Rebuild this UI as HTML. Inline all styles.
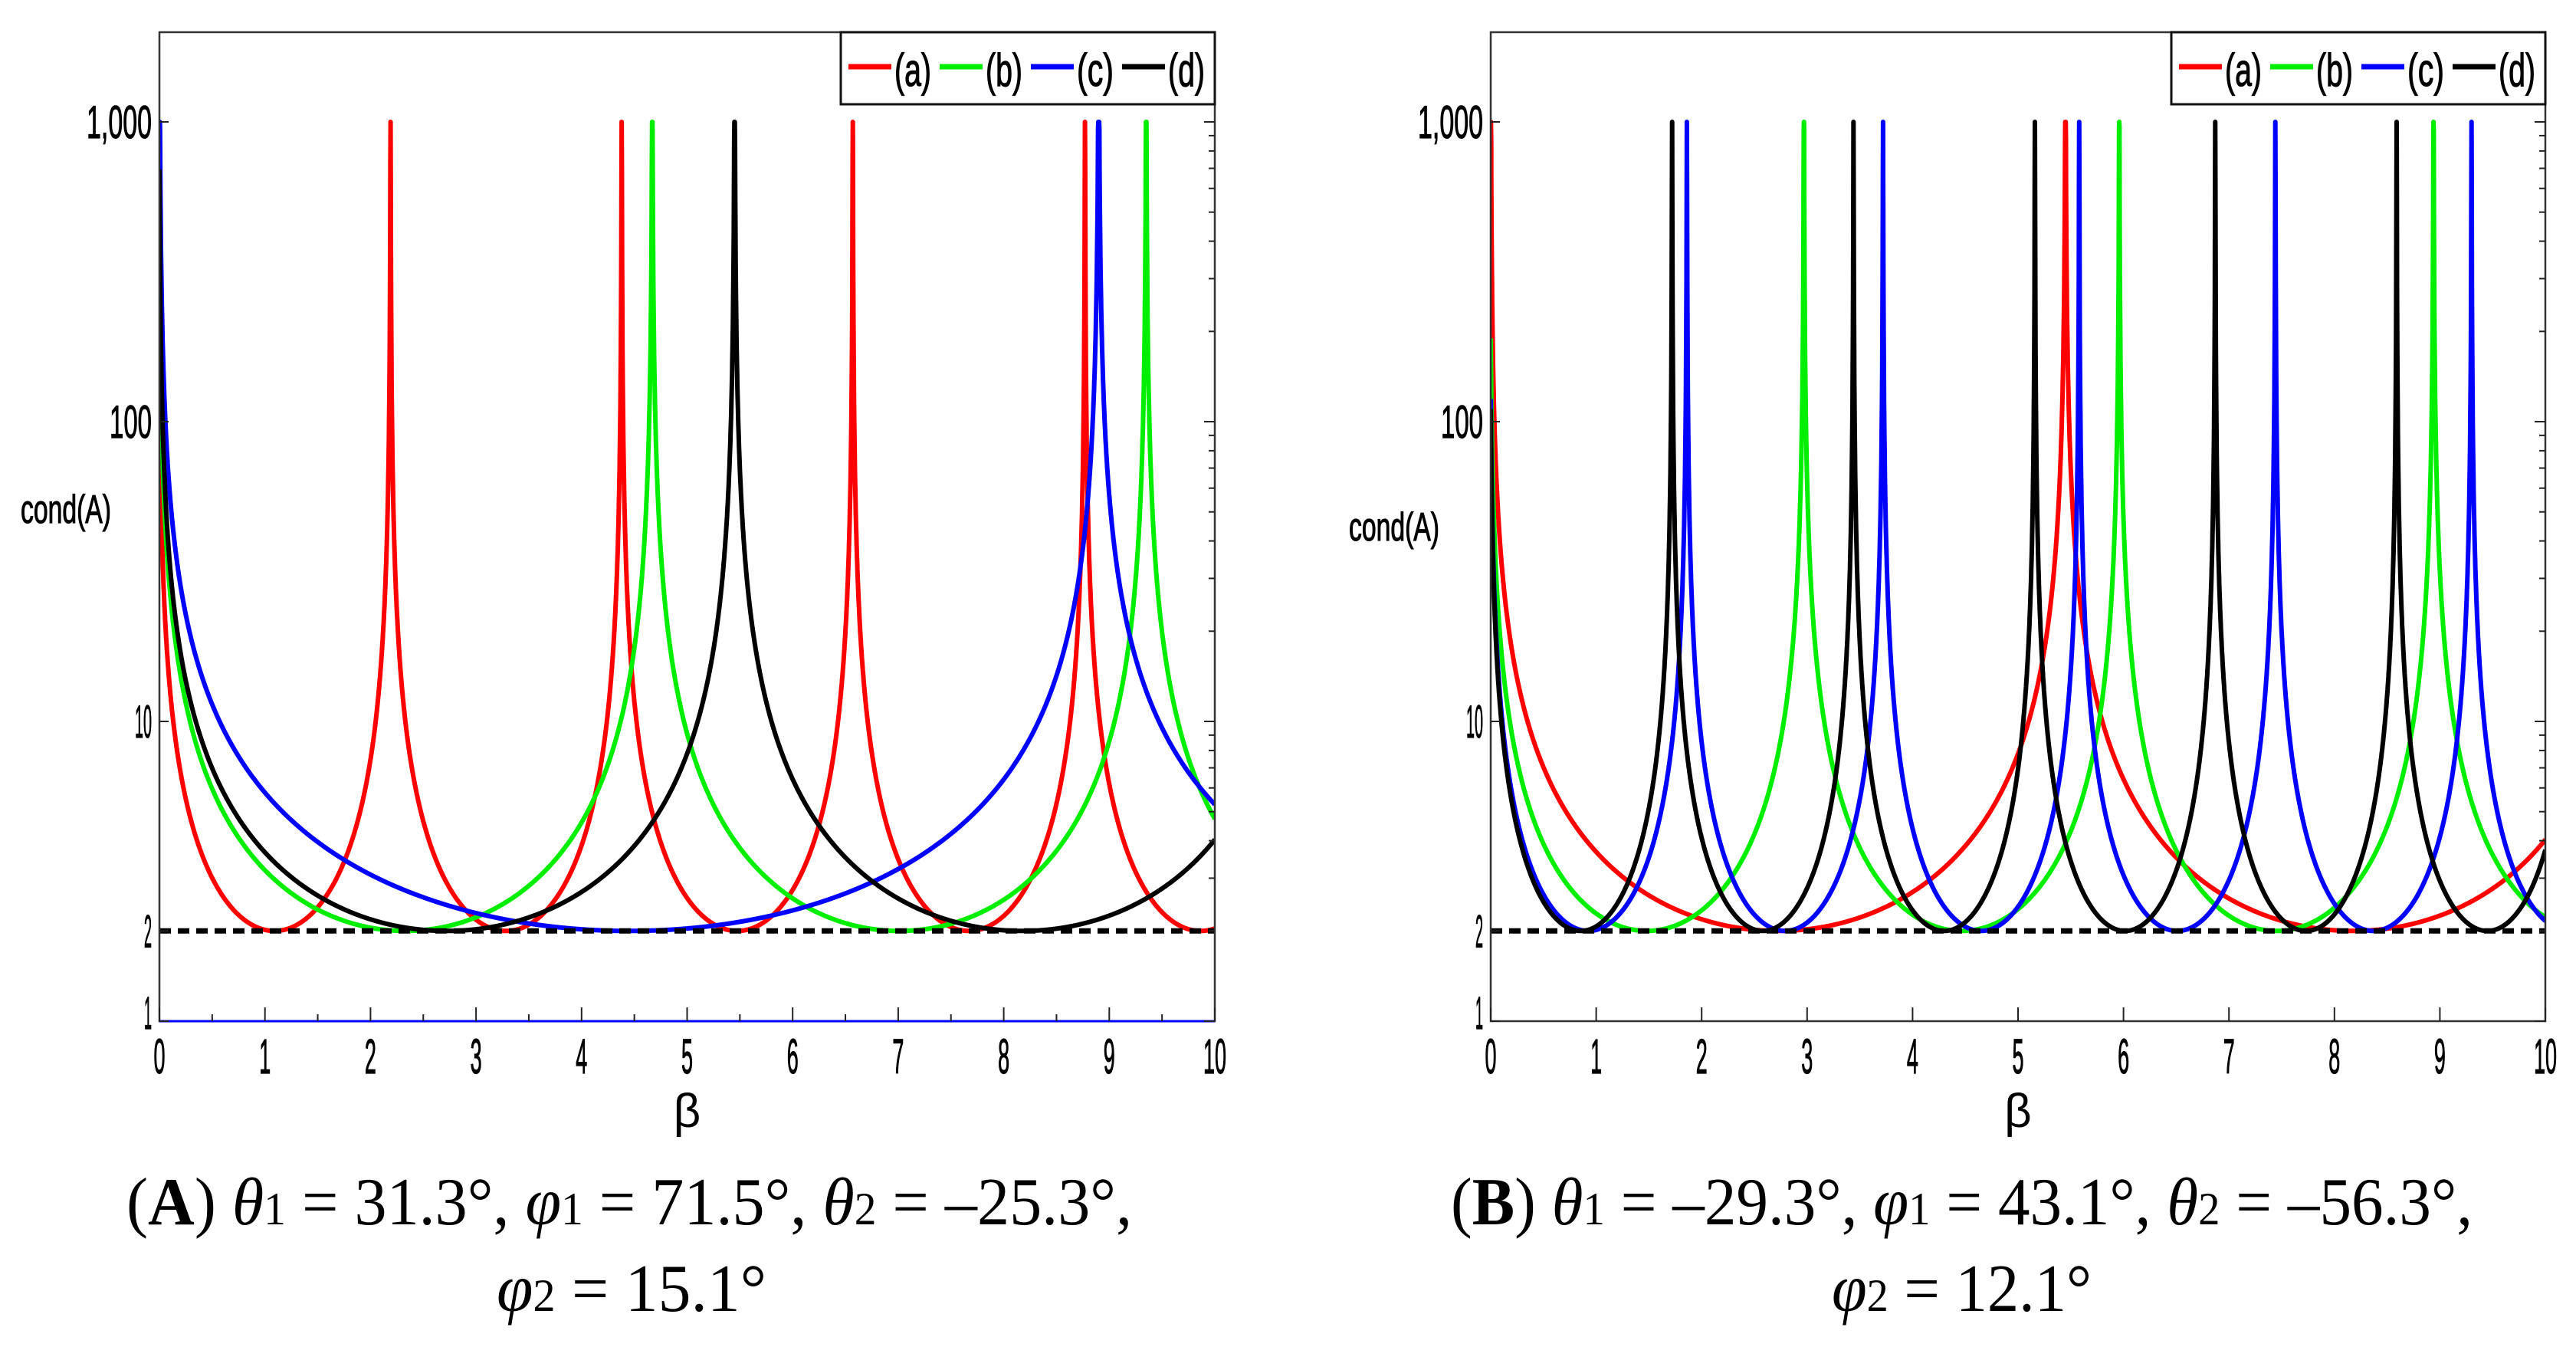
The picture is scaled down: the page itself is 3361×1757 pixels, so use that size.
<!DOCTYPE html>
<html><head><meta charset="utf-8"><style>
html,body{margin:0;padding:0;background:#fff;}
svg{display:block;}
text{font-family:"Liberation Sans",sans-serif;}
.cap{font-family:"Liberation Serif",serif;}
.tk{stroke:#000;stroke-width:1.2px;}
</style></head><body>
<svg id="fig" width="3361" height="1757" viewBox="0 0 3361 1757" xmlns="http://www.w3.org/2000/svg"></svg>
<script>
// ---- data ----
const xTicks = [0,1,2,3,4,5,6,7,8,9,10];
const yTickVals = [1,2,10,100,1000];
const yTickLabels = ["1","2","10","100","1,000"];
const seriesNames = ["(a)","(b)","(c)","(d)"];
const seriesColors = ["#ff0000","#00ee00","#0000ff","#000000"];
const refLevel = 2;
// singular (peak) positions of cond(A) for each series, panel A
const peaksA_a = [-0.01, 2.19, 4.38, 6.57, 8.77, 10.96];
const peaksA_b = [-0.01, 4.67, 9.35, 14.03];
const peaksA_c = [0.0, 8.9, 17.8];
const peaksA_d = [-0.005, 5.45, 10.9];
// panel B
const peaksB_a = [0.0, 5.45, 10.9];
const peaksB_b = [-0.01, 2.97, 5.96, 8.94, 11.92];
const peaksB_c = [-0.01, 1.86, 3.72, 5.58, 7.44, 9.30, 11.16];
const peaksB_d = [-0.01, 1.72, 3.44, 5.16, 6.87, 8.59, 10.31];
const minCond = 2, maxCond = 1000;

const NS = "http://www.w3.org/2000/svg";
const svg = document.getElementById('fig');
function mk(tag, attrs, parent){const e=document.createElementNS(NS,tag);for(const k in attrs)e.setAttribute(k,attrs[k]);(parent||svg).appendChild(e);return e;}

function condAt(b, peaks){
  for(let i=0;i<peaks.length-1;i++){
    const p1=peaks[i], p2=peaks[i+1];
    if(b>=p1 && b<=p2){
      const s=Math.sin(Math.PI*(b-p1)/(p2-p1));
      return s<=minCond/maxCond ? maxCond : Math.min(maxCond, minCond/s);
    }
  }
  return maxCond;
}

function panel(id, x0, x10, peaksList, bottomBlue, minorX){
  const top=42, y1=1332, decade=391;
  const X=v=>x0+(x10-x0)*v/10;
  const Y=v=>y1-decade*Math.log10(v);
  const g=mk('g',{});
  
  
  const cg=mk('g',{'clip-path':'url(#clip'+id+')'},g);
  const cp=mk('clipPath',{id:'clip'+id});
  mk('rect',{x:x0,y:top,width:x10-x0,height:y1-top},cp);
  svg.appendChild(cp);
  peaksList.forEach((peaks,si)=>{
    let xs=[];
    for(let b=0;b<=10.0001;b+=0.002)xs.push(b);
    peaks.forEach(p=>{if(p>=0&&p<=10){xs.push(p);}});
    xs.sort((a,b)=>a-b);
    let d='';
    xs.forEach((b,i)=>{d+=(i?'L':'M')+X(b).toFixed(1)+','+Y(condAt(b,peaks)).toFixed(1);});
    const path=mk('path',{d:d,fill:'none',stroke:seriesColors[si],'stroke-width':6,'stroke-linejoin':'round'},cg);
    
    
  });
  const ref=mk('line',{x1:x0,x2:x10,y1:Y(refLevel),y2:Y(refLevel),stroke:'#000','stroke-width':7,'stroke-dasharray':'15,9'},g);
  
  
  const fr=mk('rect',{x:x0,y:top,width:x10-x0,height:y1-top,fill:'none',stroke:'#333','stroke-width':2.5},g);
  
  
  if(bottomBlue){mk('line',{x1:x0,x2:x10,y1:y1,y2:y1,stroke:'#0000ff','stroke-width':3},g);}
  for(let dec=0;dec<3;dec++){
    for(let m=1;m<10;m++){
      const v=Math.pow(10,dec)*m; const y=Y(v);
      const L=m===1?14:8;
      mk('line',{x1:x10,x2:x10-L,y1:y,y2:y,stroke:'#222','stroke-width':2},g);
    }
  }
  mk('line',{x1:x10,x2:x10-14,y1:Y(1000),y2:Y(1000),stroke:'#222','stroke-width':2},g);
  yTickVals.forEach((v,i)=>{
    mk('line',{x1:x0,x2:x0+12,y1:Y(v),y2:Y(v),stroke:'#222','stroke-width':2},g);
    const lab=yTickLabels[i];
    const w={1:10,2:22,3:55,5:85}[lab.length];
    const t=mk('text',{x:x0-10,y:Y(v)+(v===1?10:21),'text-anchor':'end','font-size':60,textLength:w,lengthAdjust:'spacingAndGlyphs',class:'tk'},g);
    t.textContent=lab;
    
    
  });
  xTicks.forEach(v=>{
    mk('line',{x1:X(v),x2:X(v),y1:y1,y2:y1-18,stroke:'#222','stroke-width':2},g);
    if(minorX && v<10) mk('line',{x1:X(v+0.5),x2:X(v+0.5),y1:y1,y2:y1-9,stroke:'#222','stroke-width':2},g);
    const s=String(v);
    const t=mk('text',{x:X(v),y:1400,'text-anchor':'middle','font-size':64,textLength:s.length===2?30:15,lengthAdjust:'spacingAndGlyphs',class:'tk'},g);
    t.textContent=s;
    
    
  });
  const xt=mk('text',{x:(x0+x10)/2,y:1470,'text-anchor':'middle','font-size':62,'font-family':'Liberation Serif, serif'},g);
  xt.textContent='β';
  
  
  const yt=mk('text',{x:x0-181+ (id==='B'?-4:0),y:id==='B'?705:682,'font-size':52,textLength:118,lengthAdjust:'spacingAndGlyphs',class:'tk'},g);
  yt.textContent='cond(A)';
  
  
  const lx=x10-488, ly=top;
  const lg=mk('g',{},g);
  
  
  mk('rect',{x:lx,y:ly,width:488,height:94,fill:'#fff',stroke:'#111','stroke-width':3},lg);
  seriesNames.forEach((n,i)=>{
    const ex=lx+10+i*119;
    const e=mk('g',{},lg);
    
    
    mk('line',{x1:ex,x2:ex+56,y1:ly+45,y2:ly+45,stroke:seriesColors[i],'stroke-width':7},e);
    const t=mk('text',{x:ex+60,y:ly+70,'font-size':60,textLength:48,lengthAdjust:'spacingAndGlyphs',class:'tk'},e);
    t.textContent=n;
  });
}

panel('A',208,1585,[peaksA_a,peaksA_b,peaksA_c,peaksA_d],true,true);
panel('B',1945,3321,[peaksB_a,peaksB_b,peaksB_c,peaksB_d],false,false);

function caption(name,x1,w1,y1,html1,x2,w2,y2,html2){
  const g=mk('g',{});
  
  
  const t1=mk('text',{x:x1,y:y1,'font-size':88,class:'cap',textLength:w1,lengthAdjust:'spacingAndGlyphs'},g);
  t1.innerHTML=html1;
  const t2=mk('text',{x:x2,y:y2,'font-size':88,class:'cap',textLength:w2,lengthAdjust:'spacingAndGlyphs'},g);
  t2.innerHTML=html2;
}
const sub=d=>'<tspan font-size="60" font-style="normal">'+d+'</tspan>';
caption('caption-A',165,1312,1597,
  '(<tspan font-weight="bold">A</tspan>) <tspan font-style="italic">θ</tspan>'+sub(1)+' = 31.3°, <tspan font-style="italic">φ</tspan>'+sub(1)+' = 71.5°, <tspan font-style="italic">θ</tspan>'+sub(2)+' = –25.3°,',
  648,352,1710,'<tspan font-style="italic">φ</tspan>'+sub(2)+' = 15.1°');
caption('caption-B',1893,1333,1597,
  '(<tspan font-weight="bold">B</tspan>) <tspan font-style="italic">θ</tspan>'+sub(1)+' = –29.3°, <tspan font-style="italic">φ</tspan>'+sub(1)+' = 43.1°, <tspan font-style="italic">θ</tspan>'+sub(2)+' = –56.3°,',
  2390,339,1710,'<tspan font-style="italic">φ</tspan>'+sub(2)+' = 12.1°');
</script>
</body></html>
